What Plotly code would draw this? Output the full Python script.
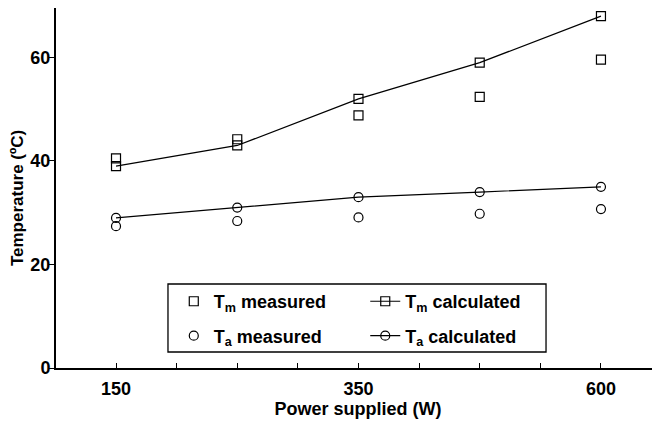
import plotly.graph_objects as go

# power supplied (W), points are evenly spaced on the axis
power = [150, 250, 350, 475, 600]
labelled = [0, 2, 4]

tm_measured = [40.5, 44.2, 48.8, 52.4, 59.6]
tm_calculated = [39.0, 43.0, 52.0, 59.0, 68.0]
ta_measured = [27.4, 28.4, 29.1, 29.8, 30.7]
ta_calculated = [29.0, 31.0, 33.0, 34.0, 35.0]

pos = list(range(len(power)))
font = dict(family='Liberation Sans, Arial', color='black', weight='bold')
legfont = dict(size=18, family='Liberation Sans, Arial', weight='bold', color='black')

fig = go.Figure()
fig.add_trace(go.Scatter(x=pos, y=tm_measured, mode='markers', name='T<sub>m</sub> measured',
                         marker=dict(symbol='square-open', size=9, color='black', line=dict(width=1.2)),
                         legend='legend', legendgroup='a'))
fig.add_trace(go.Scatter(x=pos, y=ta_measured, mode='markers', name='T<sub>a</sub> measured',
                         marker=dict(symbol='circle-open', size=9, color='black', line=dict(width=1.2)),
                         legend='legend', legendgroup='b'))
fig.add_trace(go.Scatter(x=pos, y=tm_calculated, mode='lines+markers', name='T<sub>m</sub> calculated',
                         line=dict(color='black', width=1.2),
                         marker=dict(symbol='square-open', size=9, color='black', line=dict(width=1.2)),
                         legend='legend2', legendgroup='c'))
fig.add_trace(go.Scatter(x=pos, y=ta_calculated, mode='lines+markers', name='T<sub>a</sub> calculated',
                         line=dict(color='black', width=1.2),
                         marker=dict(symbol='circle-open', size=9, color='black', line=dict(width=1.2)),
                         legend='legend2', legendgroup='d'))

# page body has an 8px margin, so the figure is a bit smaller than the window
fig.update_layout(
    width=652, height=413,
    margin=dict(l=48, r=0, t=0, b=53),
    paper_bgcolor='white', plot_bgcolor='white',
    font=dict(family='Liberation Sans, Arial', size=18, color='black', weight='bold'),
    showlegend=True,
    legend=dict(x=0.195, y=0.236, xanchor='left', yanchor='top', bgcolor='rgba(0,0,0,0)',
                font=legfont, tracegroupgap=8),
    legend2=dict(x=0.512, y=0.236, xanchor='left', yanchor='top', bgcolor='rgba(0,0,0,0)',
                 font=legfont, tracegroupgap=8),
    shapes=[dict(type='rect', xref='paper', yref='paper', x0=0.1854, x1=0.8113, y0=0.0444, y1=0.2333,
                 line=dict(color='black', width=1.3))],
    # y title as annotation, it sits a little below the middle in the original
    annotations=[dict(text='Temperature (ºC)', xref='paper', yref='paper', x=0, y=0.472,
                      xanchor='center', yanchor='middle', xshift=-39, textangle=-90,
                      showarrow=False, font=font | dict(size=17))],
)
fig.update_xaxes(range=[-0.495, 4.487], tickvals=labelled, ticktext=[str(power[i]) for i in labelled],
                 ticks='inside', ticklen=5, tickwidth=1.2, tickcolor='black', ticklabelstandoff=3,
                 minor=dict(tick0=0, dtick=0.5, ticks='inside', ticklen=5, tickwidth=1.2, tickcolor='black'),
                 showline=True, linewidth=2, linecolor='black', mirror=True,
                 showgrid=False, zeroline=False, automargin=False,
                 title=dict(text='Power supplied (W)', standoff=0, font=font | dict(size=18)))
fig.update_yaxes(range=[0, 69.56], tickvals=[0, 20, 40, 60],
                 ticks='outside', ticklen=5, tickwidth=1.2, tickcolor='black', ticklabelstandoff=-5,
                 showline=True, linewidth=2, linecolor='black',
                 showgrid=False, zeroline=False, automargin=False)

fig.write_html("out.html")
